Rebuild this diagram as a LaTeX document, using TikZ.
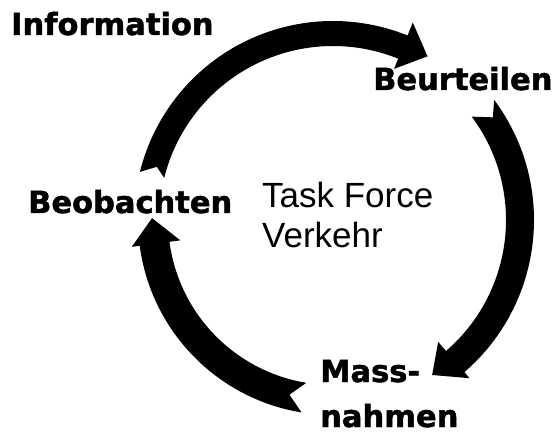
\documentclass[tikz,border=0pt]{standalone}
\usepackage{fontspec}
\setmainfont{Liberation Sans}
\newfontfamily\heavyfont{DejaVu Sans}[BoldFeatures={FakeBold=1.6}]

\begin{document}
\begin{tikzpicture}[x=1pt,y=1pt,
  phase/.style={font=\heavyfont\bfseries\fontsize{30.5}{45}\selectfont,
    inner sep=0pt, anchor=base west, align=left},
  hub/.style={font=\fontsize{35}{40}\selectfont,
    inner sep=0pt, anchor=base west, align=left},
  bigarrow/.style={fill=black, shift={(ctr)}}]
\useasboundingbox (0,0) rectangle (556,434);
\coordinate (ctr) at (333,214);

\node[phase] (info) at (11,399) {Information};
\node[phase] (beurt) at (373,344) {Beurteilen};
\node[phase] (beob) at (28,221) {Beobachten};
\node[phase] (mass) at (320,7) {Mass-\\nahmen};
\node[hub] (tfv) at (262,186) {Task Force\\Verkehr};

\fill[bigarrow] (166:199pt) arc[start angle=166, end angle=68, radius=199pt]
  -- (68:213pt) -- (60:189pt) -- (68:163pt) -- (68:174pt)
  arc[start angle=68, end angle=166, radius=174pt] -- (163.2:184pt) -- cycle;
\fill[bigarrow] (36.7:201pt) arc[start angle=36.7, end angle=-49.2, radius=201pt]
  -- (-49.2:209pt) -- (-57.4:184pt) -- (-49.2:161pt) -- (-49.2:173pt)
  arc[start angle=-49.2, end angle=36.7, radius=173pt] -- (32.7:190pt) -- cycle;
\fill[bigarrow] (260.7:195pt) arc[start angle=260.7, end angle=187.6, radius=195pt]
  -- (187.6:203pt) -- (179.4:181pt) -- (187.6:154pt) -- (187.6:165pt)
  arc[start angle=187.6, end angle=260.7, radius=165pt] -- (256:180pt) -- cycle;
\end{tikzpicture}
\end{document}
